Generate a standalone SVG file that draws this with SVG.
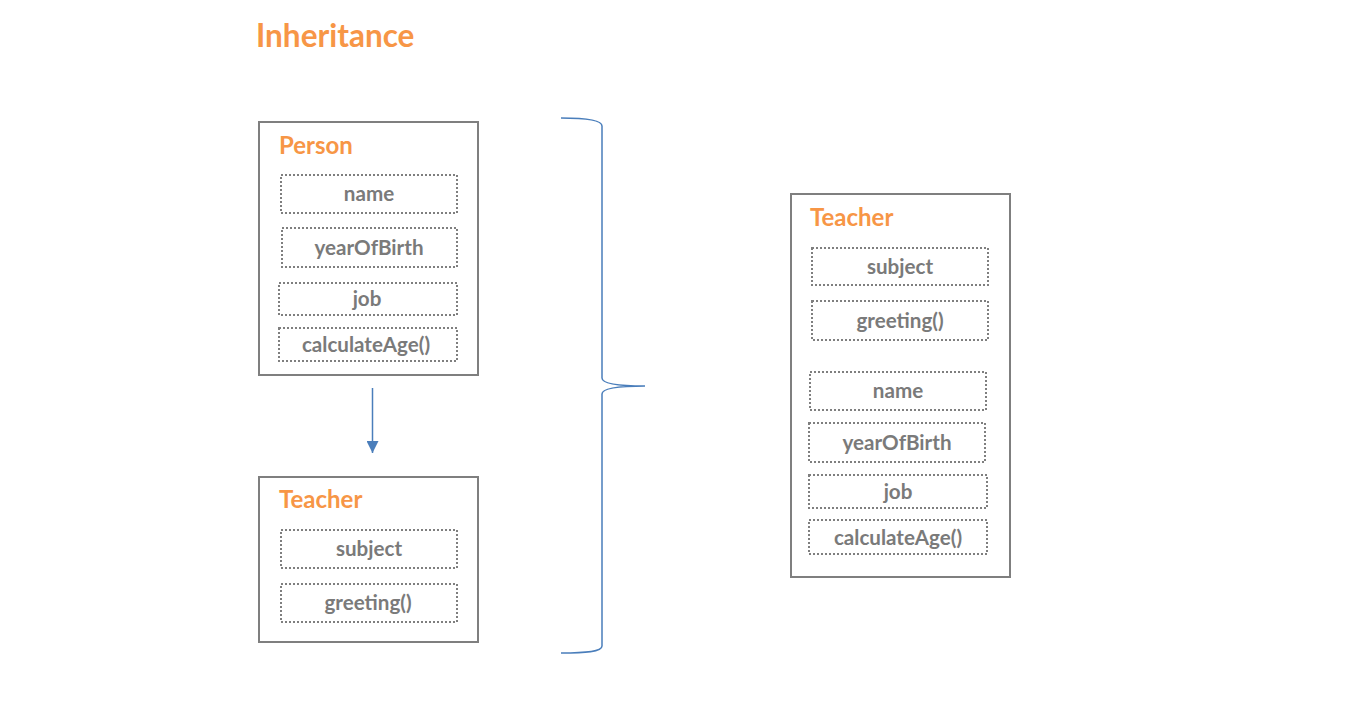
<svg xmlns="http://www.w3.org/2000/svg" width="1366" height="728" viewBox="0 0 1366 728">
<defs>
<style>
.title{font-family:Lato,"Open Sans","Liberation Sans",sans-serif;font-weight:bold;fill:#F79646}
.cls{font-family:Lato,"Open Sans","Liberation Sans",sans-serif;font-weight:bold;font-size:24px;fill:#F79646}
.outer{fill:#fff;stroke:#7F7F7F;stroke-width:2}
.field{fill:none;stroke:#7F7F7F;stroke-width:2;stroke-dasharray:2 2}
.ft{font-family:Lato,"Open Sans","Liberation Sans",sans-serif;font-weight:bold;font-size:20.6px;fill:#7A7A7A;text-anchor:middle}
.conn{fill:none;stroke:#4A7EBB;stroke-width:1.5}
</style>
<marker id="ah" viewBox="0 0 10 10" refX="10" refY="5" markerWidth="12" markerHeight="12" markerUnits="userSpaceOnUse" orient="auto">
<path d="M0,0 L10,5 L0,10 Z" fill="#4A7EBB"/>
</marker>
</defs>
<rect width="1366" height="728" fill="#fff"/>
<text class="title" x="256" y="47" font-size="31.5">Inheritance</text>

<g id="person">
<rect class="outer" x="259" y="122" width="219" height="253"/>
<text class="cls" x="279" y="154">Person</text>
<rect class="field" x="281" y="175" width="176" height="38"/>
<text class="ft" x="369" y="201">name</text>
<rect class="field" x="282" y="228" width="175" height="39"/>
<text class="ft" x="369" y="255">yearOfBirth</text>
<rect class="field" x="279" y="283" width="178" height="32"/>
<text class="ft" x="367" y="306">job</text>
<rect class="field" x="279" y="328" width="178" height="33"/>
<text class="ft" x="366" y="352">calculateAge()</text>
</g>

<g id="teacher-left">
<rect class="outer" x="259" y="477" width="219" height="165"/>
<text class="cls" x="279" y="508">Teacher</text>
<rect class="field" x="281" y="530" width="176" height="38"/>
<text class="ft" x="369" y="556">subject</text>
<rect class="field" x="281" y="584" width="176" height="38"/>
<text class="ft" x="368" y="610">greeting()</text>
</g>

<g id="teacher-right">
<rect class="outer" x="791" y="194" width="219" height="383"/>
<text class="cls" x="810" y="226">Teacher</text>
<rect class="field" x="812" y="248" width="176" height="37"/>
<text class="ft" x="900" y="274">subject</text>
<rect class="field" x="812" y="301" width="176" height="39"/>
<text class="ft" x="900" y="328">greeting()</text>
<rect class="field" x="810" y="372" width="176" height="38"/>
<text class="ft" x="898" y="398">name</text>
<rect class="field" x="809" y="423" width="176" height="39"/>
<text class="ft" x="897" y="450">yearOfBirth</text>
<rect class="field" x="809" y="475" width="178" height="33"/>
<text class="ft" x="898" y="499">job</text>
<rect class="field" x="809" y="520" width="178" height="34"/>
<text class="ft" x="898" y="545">calculateAge()</text>
</g>

<g id="connectors">
<line class="conn" x1="372.5" y1="388" x2="372.5" y2="453" marker-end="url(#ah)"/>
<path class="conn" d="M561,118 C585,118 602,120 602,126 L602,378 C602,384 620,386 645,386 C620,386 602,388 602,394 L602,646 C602,652 585,653 561,653"/>
</g>
</svg>
